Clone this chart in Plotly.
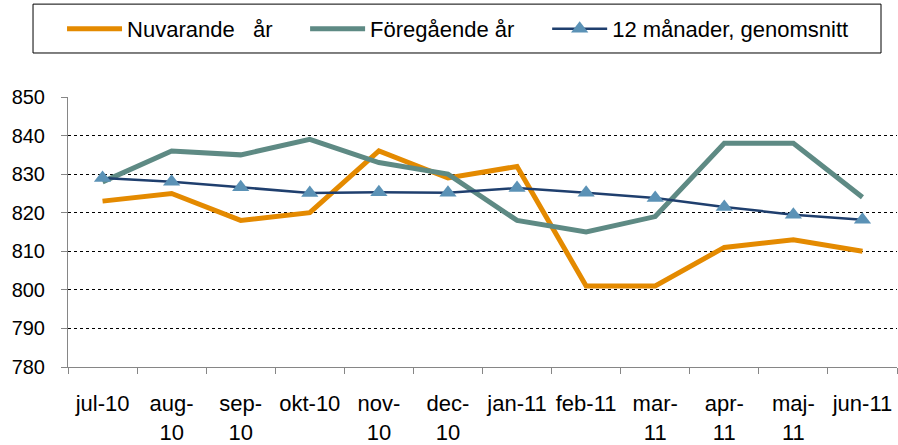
import plotly.graph_objects as go

months = ["jul-10", "aug-10", "sep-10", "okt-10", "nov-10", "dec-10",
          "jan-11", "feb-11", "mar-11", "apr-11", "maj-11", "jun-11"]
tick_labels = ["jul-10", "aug-<br>10", "sep-<br>10", "okt-10", "nov-<br>10", "dec-<br>10",
               "jan-11", "feb-11", "mar-<br>11", "apr-<br>11", "maj-<br>11", "jun-11"]
nuvarande = [823, 825, 818, 820, 836, 829, 832, 801, 801, 811, 813, 810]
foregaende = [828, 836, 835, 839, 833, 830, 818, 815, 819, 838, 838, 824]
genomsnitt = [829.0, 828.0, 826.6, 825.1, 825.3, 825.2, 826.4, 825.2, 823.8, 821.5, 819.5, 818.2]
y_ticks = [780, 790, 800, 810, 820, 830, 840, 850]

FONT = "Liberation Sans, Arial, sans-serif"
AX = "#868686"

fig = go.Figure()
fig.add_trace(go.Scatter(x=months, y=nuvarande, mode="lines",
                         name="Nuvarande\u00a0\u00a0\u00a0år", legend="legend",
                         line=dict(color="#E48A00", width=5)))
fig.add_trace(go.Scatter(x=months, y=foregaende, mode="lines",
                         name="Föregående år", legend="legend2",
                         line=dict(color="#5E8A84", width=5)))
fig.add_trace(go.Scatter(x=months, y=genomsnitt, mode="lines+markers",
                         name="12 månader, genomsnitt", legend="legend3",
                         line=dict(color="#1F3F6E", width=2.5),
                         marker=dict(symbol="triangle-up", size=15, color="#5B92B6",
                                     line=dict(width=0))))

leg_common = dict(orientation="h", xanchor="left", y=1.252, yanchor="middle",
                  font=dict(family=FONT, size=22, color="black"),
                  itemwidth=55, bgcolor="rgba(0,0,0,0)", borderwidth=0)

fig.update_layout(
    width=898, height=445,
    margin=dict(l=68, r=1, t=97, b=78, autoexpand=False),
    paper_bgcolor="white", plot_bgcolor="white",
    font=dict(family=FONT, color="black"),
    showlegend=True,
    legend=dict(x=-0.0072, **leg_common),
    legend2=dict(x=0.286, **leg_common),
    legend3=dict(x=0.578, **leg_common),
    shapes=[dict(type="rect", xref="paper", yref="paper",
                 x0=-0.0422, x1=0.9807, y0=1.163, y1=1.344,
                 line=dict(color="black", width=1), fillcolor="rgba(0,0,0,0)")],
    xaxis=dict(type="category", categoryorder="array", categoryarray=months,
               tickmode="array", tickvals=months, ticktext=tick_labels,
               range=[-0.5, 11.5], tickson="boundaries", automargin=False,
               ticks="outside", ticklen=6, tickcolor=AX, tickwidth=1,
               showline=True, linecolor=AX, linewidth=1, showgrid=False,
               ticklabelstandoff=17, tickangle=0,
               tickfont=dict(family=FONT, size=22, color="black")),
    yaxis=dict(range=[780, 850], tickmode="array", tickvals=y_ticks, automargin=False,
               ticks="outside", ticklen=6, tickcolor=AX, tickwidth=1,
               showline=True, linecolor=AX, linewidth=1,
               showgrid=True, gridcolor="black", gridwidth=1, griddash="dot",
               zeroline=False, ticklabelstandoff=12,
               tickfont=dict(family=FONT, size=20, color="black")),
)

fig.write_html("out.html", config={"displayModeBar": False},
               post_script="document.body.style.margin='0px';")
